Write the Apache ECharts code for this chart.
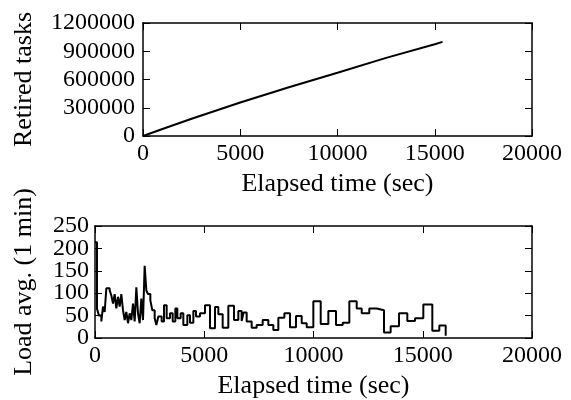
<!DOCTYPE html>
<html>
<head>
<meta charset="utf-8">
<script src="https://cdn.jsdelivr.net/npm/echarts@6/dist/echarts.min.js"></script>
<style>
  html, body { margin: 0; padding: 0; background: #fff; }
  #chart { width: 571px; height: 400px; }
</style>
</head>
<body>
<div id="chart"></div>
<script>
// ---- data ----
const taskTimes = [0, 1000, 2500, 5000, 7500, 10000, 12500, 15000, 15400];
const taskValues = [0, 75000, 183000, 355000, 518000, 672000, 830000, 975000, 1000000];

const loadTimes = [0, 92, 183, 290, 366, 442, 519, 671, 748, 824, 900, 976, 1053, 1129, 1205, 1282, 1358, 1434, 1510, 1587,
  1663, 1739, 1816, 1892, 1968, 2044, 2121, 2197, 2273, 2350, 2426, 2533, 2624, 2731, 2808, 2899, 3051, 3158, 3280, 3433,
  3555, 3677, 3769, 3921, 4043, 4226, 4348, 4501, 4623, 4805, 5034, 5263, 5492, 5645, 5843, 6102, 6362, 6560, 6712, 6800,
  6941, 7170, 7399, 7674, 7933, 8162, 8391, 8666, 8924, 9199, 9459, 9688, 9993, 10330, 10679, 11030, 11336, 11640, 11977, 12206,
  12554, 12892, 13227, 13531, 13913, 14294, 14645, 15026, 15438, 15758, 16050];
const loadValues = [214, 65, 50, 37, 70, 58, 111, 106, 95, 77, 98, 66, 92, 70, 98, 62, 40, 58, 33, 55,
  40, 77, 37, 113, 55, 33, 88, 40, 161, 106, 98, 84, 62, 44, 29, 48, 37, 73, 44, 55,
  37, 66, 44, 55, 29, 51, 34, 60, 48, 55, 73, 22, 69, 53, 23, 72, 40, 60, 38, 57,
  37, 23, 29, 40, 29, 18, 45, 55, 24, 49, 33, 24, 82, 31, 60, 29, 34, 82, 66, 55,
  66, 62, 12, 26, 55, 38, 44, 75, 16, 28, 5];

const xTicks = [0, 5000, 10000, 15000, 20000];
const taskTicks = [0, 300000, 600000, 900000, 1200000];
const loadTicks = [0, 50, 100, 150, 200, 250];

// ---- chart ----
const FONT = 'Liberation Serif';
const FS = 24;
const NFS = 26;
const taskData = taskTimes.map((t, i) => [t, taskValues[i]]);
const loadData = loadTimes.map((t, i) => [t, loadValues[i]]);
const plain = v => String(v);
const loadEven = loadTicks.filter((v, i) => i % 2 === 0);
const loadOdd = loadTicks.filter((v, i) => i % 2 === 1);

function xAx(gridIndex, position, showLabels, name) {
  return {
    type: 'value', gridIndex, position, min: xTicks[0], max: xTicks[xTicks.length - 1],
    interval: xTicks[1] - xTicks[0],
    name: name || '', nameLocation: 'middle', nameGap: 35,
    nameTextStyle: { fontFamily: FONT, fontSize: NFS, color: '#000' },
    axisLine: { show: true, onZero: false, lineStyle: { color: '#000', width: 1.5 } },
    axisTick: { show: true, inside: true, length: 7, lineStyle: { color: '#000', width: 1 } },
    axisLabel: { show: showLabels, fontFamily: FONT, fontSize: FS, color: '#000', margin: 6,
      formatter: plain, hideOverlap: false, showMaxLabel: true, showMinLabel: true },
    splitLine: { show: false }
  };
}
function yAx(gridIndex, position, ticks, showLabels, name, nameGap, margin) {
  return {
    type: 'value', gridIndex, position, min: ticks[0], max: ticks[ticks.length - 1],
    interval: ticks[1] - ticks[0],
    name: name || '', nameLocation: 'middle', nameGap: nameGap || 0,
    nameTextStyle: { fontFamily: FONT, fontSize: NFS, color: '#000' },
    axisLine: { show: true, onZero: false, lineStyle: { color: '#000', width: 1.5 } },
    axisTick: { show: true, inside: true, length: 7, lineStyle: { color: '#000', width: 1 } },
    axisLabel: { show: showLabels, fontFamily: FONT, fontSize: FS, color: '#000', margin: margin || 8,
      formatter: plain, hideOverlap: false, showMaxLabel: true, showMinLabel: true },
    splitLine: { show: false }
  };
}

const loadLeftA = yAx(1, 'left', loadTicks, true, 'Load avg. (1 min)', 58, 6);
loadLeftA.axisLabel.customValues = loadEven;
const loadLeftB = yAx(1, 'left', loadTicks, true, '', 0, 6);
loadLeftB.axisLabel.customValues = loadOdd;
loadLeftB.axisLine.show = false;
loadLeftB.axisTick.show = false;

const chart = echarts.init(document.getElementById('chart'), null, { renderer: 'canvas' });
chart.setOption({
  animation: false,
  backgroundColor: '#fff',
  grid: [
    { left: 143, right: 39, top: 23, height: 113 },
    { left: 95, right: 39, top: 226, height: 114 }
  ],
  xAxis: [
    xAx(0, 'bottom', true, 'Elapsed time (sec)'),
    xAx(0, 'top', false),
    xAx(1, 'bottom', true, 'Elapsed time (sec)'),
    xAx(1, 'top', false)
  ],
  yAxis: [
    yAx(0, 'left', taskTicks, true, 'Retired tasks', 106, 8),
    yAx(0, 'right', taskTicks, false),
    loadLeftA,
    yAx(1, 'right', loadTicks, false),
    loadLeftB
  ],
  series: [
    { type: 'line', xAxisIndex: 0, yAxisIndex: 0, data: taskData, showSymbol: false,
      lineStyle: { color: '#000', width: 2 } },
    { type: 'line', xAxisIndex: 2, yAxisIndex: 2, data: loadData, step: 'end', showSymbol: false,
      lineStyle: { color: '#000', width: 2 } }
  ]
});
</script>
</body>
</html>
